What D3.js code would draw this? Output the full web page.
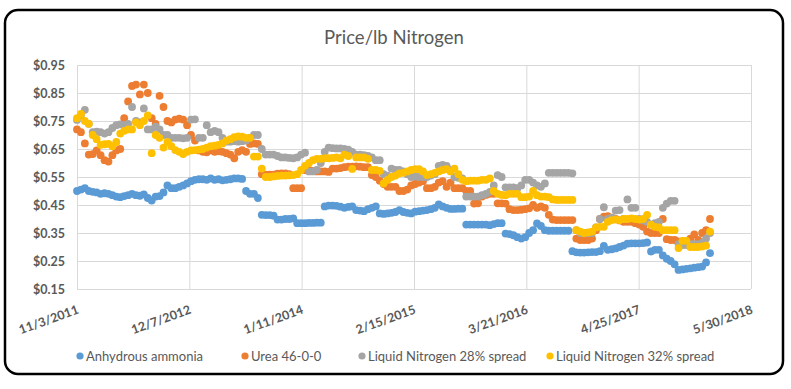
<!DOCTYPE html>
<html>
<head>
<meta charset="utf-8">
<script src="https://cdn.jsdelivr.net/npm/d3@7"></script>
<style>
body { margin: 0; background: #fff; }
</style>
</head>
<body>
<div id="chart-area"></div>
<script>
// biweekly readings, first one on 11/3/2011
const START_DATE = '11/3/2011'
const STEP_DAYS = 14

const xTickLabels = ['11/3/2011','12/7/2012','1/11/2014','2/15/2015','3/21/2016','4/25/2017','5/30/2018']
const yTicks = [0.15,0.25,0.35,0.45,0.55,0.65,0.75,0.85,0.95]
const seriesNames = ['Anhydrous ammonia','Urea 46-0-0','Liquid Nitrogen 28% spread','Liquid Nitrogen 32% spread']

const anhydrous = [
  0.50,0.505,0.51,0.50,0.497,0.495,0.49,0.492,0.49,0.485,
  0.48,0.478,0.482,0.485,0.49,0.485,0.483,0.488,0.475,0.466,
  0.48,0.482,0.495,0.52,0.51,0.51,0.515,0.52,0.527,0.535,
  0.54,0.542,0.542,0.54,0.545,0.54,0.542,0.538,0.54,0.542,
  0.545,0.545,0.543,0.50,0.49,0.49,0.475,0.415,0.414,0.414,
  0.412,0.398,0.398,0.40,0.40,0.402,0.385,0.385,0.385,0.386,
  0.386,0.387,0.387,0.445,0.448,0.448,0.447,0.444,0.44,0.443,
  0.445,0.432,0.43,0.428,0.435,0.44,0.445,0.42,0.418,0.42,
  0.422,0.425,0.432,0.425,0.422,0.42,0.426,0.428,0.43,0.432,
  0.435,0.44,0.452,0.445,0.44,0.436,0.436,0.437,0.437,0.38,
  0.38,0.38,0.38,0.38,0.38,0.378,0.382,0.385,0.385,0.348,
  0.346,0.342,0.335,0.33,0.335,0.35,0.36,0.384,0.375,0.36,
  0.358,0.358,0.358,0.358,0.358,0.358,0.285,0.281,0.28,0.28,
  0.281,0.282,0.282,0.285,0.304,0.29,0.292,0.295,0.30,0.305,
  0.312,0.313,0.313,0.313,0.314,0.316,0.284,0.29,0.29,0.27,
  0.258,0.25,0.238,0.218,0.22,0.222,0.224,0.226,0.228,0.23,
  0.245,0.278
]

const urea = [
  0.72,0.71,0.67,0.63,0.632,0.645,0.628,0.61,0.605,0.628,
  0.645,0.65,0.76,0.82,0.875,0.88,0.845,0.88,0.85,0.76,
  0.74,0.84,0.80,0.75,0.745,0.755,0.758,0.755,0.735,0.70,
  0.68,0.645,0.64,0.638,0.645,0.64,0.642,0.64,0.635,0.63,
  0.617,0.64,0.646,0.64,0.668,0.67,0.668,0.56,0.558,0.558,
  0.558,0.562,0.563,0.563,0.56,0.51,0.51,0.51,0.575,0.575,
  0.572,0.57,0.57,0.57,0.568,0.58,0.58,0.582,0.585,0.587,
  0.587,0.588,0.587,0.585,0.585,0.557,0.55,0.537,0.525,0.515,
  0.515,0.515,0.50,0.50,0.505,0.52,0.525,0.53,0.535,0.51,
  0.51,0.515,0.53,0.535,0.515,0.53,0.51,0.51,0.51,0.50,
  0.50,0.455,0.456,0.48,0.486,0.49,0.49,0.456,0.456,0.455,
  0.435,0.432,0.432,0.433,0.435,0.438,0.45,0.44,0.445,0.44,
  0.415,0.398,0.396,0.396,0.396,0.396,0.396,0.33,0.325,0.325,
  0.325,0.33,0.36,0.40,0.408,0.41,0.405,0.40,0.395,0.39,
  0.39,0.39,0.385,0.38,0.372,0.355,0.35,0.35,0.35,0.40,
  0.328,0.325,0.325,0.32,0.32,0.32,0.33,0.345,0.325,0.35,
  0.36,0.40
]

const liquid28 = [
  0.754,0.77,0.79,0.74,0.71,0.712,0.71,0.705,0.71,0.725,
  0.735,0.738,0.735,0.74,0.80,0.75,0.745,0.795,0.72,0.72,
  0.73,0.72,0.70,0.70,0.69,0.69,0.69,0.688,0.69,0.755,
  0.756,0.69,0.69,0.735,0.71,0.715,0.71,0.69,0.676,0.676,
  0.678,0.676,0.678,0.68,0.69,0.70,0.70,0.65,0.63,0.63,
  0.63,0.625,0.62,0.62,0.618,0.617,0.62,0.63,0.637,0.57,
  0.57,0.575,0.60,0.64,0.655,0.653,0.652,0.652,0.65,0.648,
  0.64,0.63,0.63,0.628,0.625,0.62,0.61,0.61,0.56,0.555,
  0.58,0.575,0.575,0.57,0.56,0.55,0.552,0.55,0.55,0.55,
  0.555,0.56,0.59,0.593,0.59,0.575,0.55,0.547,0.545,0.48,
  0.48,0.48,0.48,0.485,0.49,0.497,0.52,0.557,0.55,0.513,
  0.513,0.513,0.51,0.52,0.54,0.54,0.53,0.52,0.515,0.527,
  0.565,0.565,0.565,0.565,0.565,0.565,0.563,0.36,0.35,0.35,
  0.35,0.35,0.37,0.40,0.442,0.40,0.405,0.43,0.432,0.40,
  0.47,0.44,0.44,0.40,0.395,0.39,0.38,0.385,0.39,0.44,
  0.455,0.465,0.465,0.31,0.307,0.307,0.31,0.31,0.31,0.315,
  0.33,0.35
]

const liquid32 = [
  0.76,0.775,0.75,0.74,0.70,0.685,0.665,0.667,0.668,0.66,
  0.675,0.705,0.715,0.72,0.72,0.745,0.735,0.75,0.77,0.635,
  0.70,0.69,0.655,0.675,0.66,0.646,0.64,0.632,0.64,0.645,
  0.646,0.648,0.65,0.655,0.66,0.662,0.665,0.67,0.68,0.685,
  0.692,0.695,0.694,0.69,0.69,0.623,0.623,0.58,0.55,0.55,
  0.552,0.554,0.555,0.555,0.556,0.557,0.56,0.575,0.59,0.60,
  0.61,0.615,0.615,0.617,0.617,0.618,0.62,0.617,0.63,0.625,
  0.579,0.62,0.62,0.62,0.615,0.575,0.575,0.572,0.527,0.54,
  0.55,0.555,0.563,0.565,0.57,0.575,0.578,0.578,0.57,0.557,
  0.56,0.565,0.57,0.575,0.578,0.57,0.58,0.56,0.54,0.535,
  0.537,0.537,0.537,0.54,0.54,0.545,0.50,0.49,0.486,0.485,
  0.49,0.49,0.49,0.478,0.478,0.48,0.50,0.485,0.48,0.48,
  0.478,0.47,0.468,0.468,0.468,0.468,0.468,0.36,0.355,0.35,
  0.352,0.355,0.37,0.372,0.372,0.39,0.396,0.398,0.396,0.40,
  0.40,0.402,0.40,0.398,0.40,0.415,0.38,0.372,0.37,0.36,
  0.36,0.36,0.36,0.296,0.322,0.322,0.30,0.30,0.30,0.302,
  0.305,0.355
]

const COLORS = ['#5B9BD5','#ED7D31','#A5A5A5','#FFC000']
const FONT = 'Lato, "Open Sans", sans-serif'
const TEXT = '#595959'

const W = 791, H = 389
const MARGIN = { LEFT: 77, RIGHT: 40, TOP: 65, BOTTOM: 100 }

const parse = d3.utcParse('%m/%d/%Y')
const start = parse(START_DATE)

const svg = d3.select('#chart-area')
  .append('svg')
  .attr('width', W)
  .attr('height', H)

svg.append('rect')
  .attr('x', 5).attr('y', 10)
  .attr('width', 778).attr('height', 364)
  .attr('rx', 13)
  .attr('fill', '#fff')
  .attr('stroke', '#000')
  .attr('stroke-width', 2.5)

svg.append('text')
  .attr('x', 394).attr('y', 44)
  .attr('text-anchor', 'middle')
  .attr('font-family', FONT)
  .attr('font-size', '18.5px')
  .attr('fill', TEXT)
  .text('Price/lb Nitrogen')

const x = d3.scaleUtc()
  .domain([parse(xTickLabels[0]), parse(xTickLabels[xTickLabels.length - 1])])
  .range([MARGIN.LEFT, W - MARGIN.RIGHT])

const y = d3.scaleLinear()
  .domain([0.15, 0.95])
  .range([H - MARGIN.BOTTOM, MARGIN.TOP])

// horizontal grid + y labels
const yAxis = svg.append('g')
  .attr('transform', `translate(${MARGIN.LEFT},0)`)
  .call(d3.axisLeft(y).tickValues(yTicks).tickSize(-(x.range()[1] - x.range()[0])).tickPadding(12).tickFormat(d3.format('$.2f')))
yAxis.select('.domain').remove()
yAxis.selectAll('line').attr('stroke', '#D9D9D9')
yAxis.selectAll('text')
  .attr('font-family', FONT).attr('font-size', '12.5px').attr('font-weight', 'bold').attr('fill', TEXT)

// vertical grid + rotated date labels
const xDates = xTickLabels.map(parse)
const xAxis = svg.append('g')
  .attr('transform', `translate(0,${y(0.15)})`)
  .call(d3.axisBottom(x).tickValues(xDates).tickSize(-(y(0.15) - y(0.95))).tickFormat((d, i) => xTickLabels[i]))
xAxis.select('.domain').remove()
xAxis.selectAll('line').attr('stroke', '#D9D9D9')
xAxis.selectAll('text')
  .attr('font-family', FONT).attr('font-size', '12.5px').attr('font-weight', 'bold').attr('fill', TEXT)
  .attr('text-anchor', 'end')
  .attr('dy', null)
  .attr('y', 0)
  .attr('transform', 'translate(2,24) rotate(-20)')

const allSeries = [anhydrous, urea, liquid28, liquid32]

allSeries.forEach((vals, s) => {
  svg.append('g')
    .selectAll('circle')
    .data(vals)
    .enter().append('circle')
    .attr('cx', (d, i) => x(d3.utcDay.offset(start, i * STEP_DAYS)))
    .attr('cy', d => y(d))
    .attr('r', 3.9)
    .attr('fill', COLORS[s])
})

const legendX = [80, 245, 362, 550]
const legend = svg.append('g')
seriesNames.forEach((name, i) => {
  const row = legend.append('g').attr('transform', `translate(${legendX[i]},356)`)
  row.append('circle').attr('r', 3.6).attr('fill', COLORS[i])
  row.append('text')
    .attr('x', 6).attr('y', 4.5)
    .attr('font-family', FONT).attr('font-size', '13px').attr('fill', TEXT)
    .text(name)
})
</script>
</body>
</html>
